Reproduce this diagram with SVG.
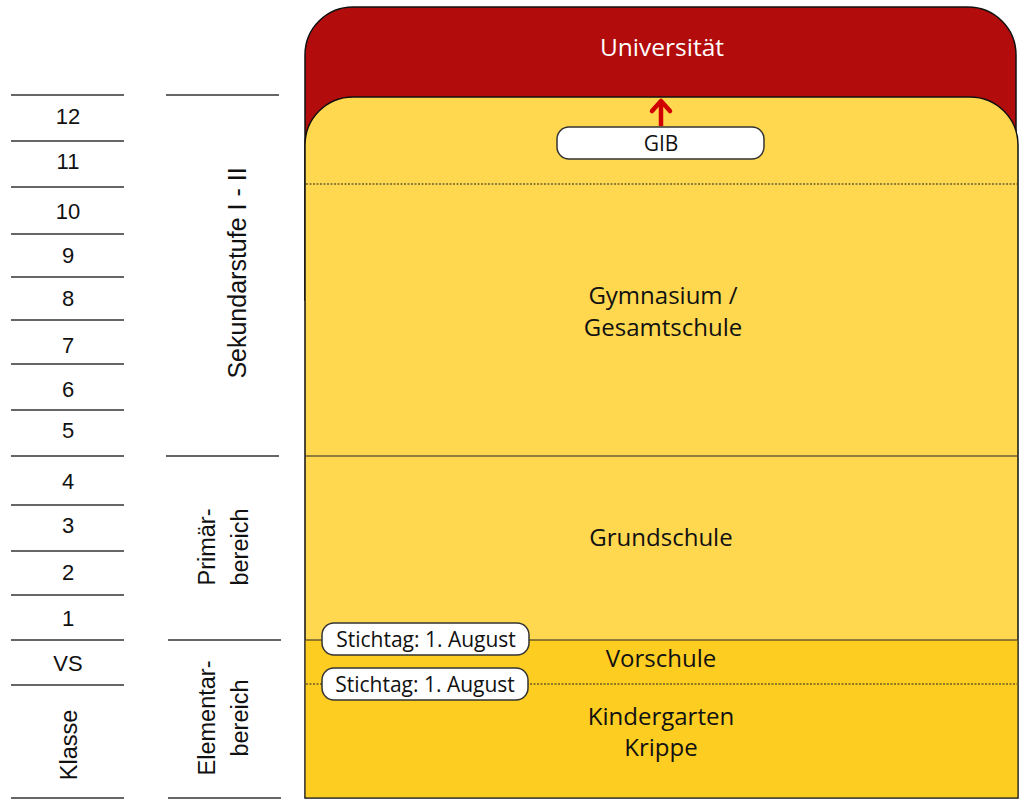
<svg xmlns="http://www.w3.org/2000/svg" width="1024" height="808" viewBox="0 0 1024 808">
<style>
.num{font-family:"Liberation Sans",Arial,sans-serif;font-size:22px;fill:#111;text-anchor:middle}
.lab{font-family:"Liberation Sans",Arial,sans-serif;font-size:23.5px;fill:#111;text-anchor:middle}
.t{font-family:"Open Sans","Noto Sans",sans-serif;font-size:24px;fill:#111;text-anchor:middle}
.tb{font-family:"Open Sans","Noto Sans",sans-serif;font-size:21px;fill:#111;text-anchor:middle}
.rule{stroke:#333;stroke-width:1.6}
.sep{stroke:#222;stroke-width:1.2}
.dot{stroke:#222;stroke-width:1.2;stroke-dasharray:2 1.5}
.pill{fill:#fff;stroke:#333;stroke-width:1.5}
</style>
<rect width="1024" height="808" fill="#fff"/>
<g id="scale">
<line class="rule" x1="11" y1="95" x2="124" y2="95"/>
<line class="rule" x1="11" y1="141" x2="124" y2="141"/>
<line class="rule" x1="11" y1="187" x2="124" y2="187"/>
<line class="rule" x1="11" y1="234" x2="124" y2="234"/>
<line class="rule" x1="11" y1="277" x2="124" y2="277"/>
<line class="rule" x1="11" y1="320" x2="124" y2="320"/>
<line class="rule" x1="11" y1="364" x2="124" y2="364"/>
<line class="rule" x1="11" y1="410" x2="124" y2="410"/>
<line class="rule" x1="11" y1="456" x2="124" y2="456"/>
<line class="rule" x1="11" y1="505" x2="124" y2="505"/>
<line class="rule" x1="11" y1="551" x2="124" y2="551"/>
<line class="rule" x1="11" y1="595" x2="124" y2="595"/>
<line class="rule" x1="11" y1="640" x2="124" y2="640"/>
<line class="rule" x1="11" y1="685" x2="124" y2="685"/>
<line class="rule" x1="11" y1="798" x2="124" y2="798"/>
<text class="num" x="68" y="124">12</text>
<text class="num" x="68" y="169">11</text>
<text class="num" x="68" y="219">10</text>
<text class="num" x="68" y="263">9</text>
<text class="num" x="68" y="306">8</text>
<text class="num" x="68" y="353">7</text>
<text class="num" x="68" y="397">6</text>
<text class="num" x="68" y="438">5</text>
<text class="num" x="68" y="489">4</text>
<text class="num" x="68" y="533">3</text>
<text class="num" x="68" y="580">2</text>
<text class="num" x="68" y="626">1</text>
<text class="num" x="68" y="671">VS</text>
<text class="lab" transform="translate(77,745) rotate(-90)">Klasse</text>
</g>
<g id="stages">
<line class="rule" x1="166" y1="95" x2="279" y2="95"/>
<line class="rule" x1="166" y1="456" x2="279" y2="456"/>
<line class="rule" x1="168" y1="640" x2="281" y2="640"/>
<line class="rule" x1="168" y1="798" x2="281" y2="798"/>
<text class="lab" transform="translate(246,273) rotate(-90)" style="font-size:25px">Sekundarstufe I - II</text>
<text class="lab" transform="translate(215,547) rotate(-90)">Primär-</text>
<text class="lab" transform="translate(248,547) rotate(-90)">bereich</text>
<text class="lab" transform="translate(215,718) rotate(-90)">Elementar-</text>
<text class="lab" transform="translate(248,718) rotate(-90)">bereich</text>
</g>
<g id="universitaet">
<path d="M305,300 V55 A48,48 0 0 1 353,7 H968 A48,48 0 0 1 1016,55 V300 Z" fill="#B30C0C" stroke="#111" stroke-width="1.5"/>
<text x="662" y="56" font-family="Open Sans, Noto Sans, sans-serif" font-size="24.5" fill="#fff" text-anchor="middle">Universität</text>
</g>
<g id="schule">
<path d="M305,798 V145 A48,48 0 0 1 353,97 H970 A48,48 0 0 1 1018,145 V798 Z" fill="#FFD850" stroke="#111" stroke-width="1.5"/>
<rect x="305.75" y="640" width="711.5" height="157.25" fill="#FECD22"/>
<line class="dot" x1="306" y1="184" x2="1017" y2="184"/>
<line class="sep" x1="306" y1="456" x2="1017" y2="456"/>
<line class="sep" x1="306" y1="640" x2="1017" y2="640"/>
<line class="dot" x1="306" y1="684" x2="1017" y2="684"/>
<text class="t" x="663" y="304">Gymnasium /</text>
<text class="t" x="663" y="336">Gesamtschule</text>
<text class="t" x="661" y="546">Grundschule</text>
<text class="t" x="661" y="667">Vorschule</text>
<text class="t" x="661" y="725">Kindergarten</text>
<text class="t" x="661" y="756">Krippe</text>
</g>
<g id="connectors">
<line x1="661" y1="126" x2="661" y2="101" stroke="#D00000" stroke-width="4.5"/>
<polyline points="652,111 661,101 670,111" fill="none" stroke="#D00000" stroke-width="4.5" stroke-linecap="round" stroke-linejoin="round"/>
</g>
<g id="gib">
<rect class="pill" x="557" y="127" width="207" height="32" rx="12"/>
<text class="tb" x="661" y="150.5">GIB</text>
</g>
<g id="stichtag1">
<rect class="pill" x="322" y="623" width="207" height="32" rx="12"/>
<text class="tb" x="426" y="646.5">Stichtag: 1. August</text>
</g>
<g id="stichtag2">
<rect class="pill" x="322" y="668" width="206" height="32" rx="12"/>
<text class="tb" x="425" y="691.5">Stichtag: 1. August</text>
</g>
</svg>
